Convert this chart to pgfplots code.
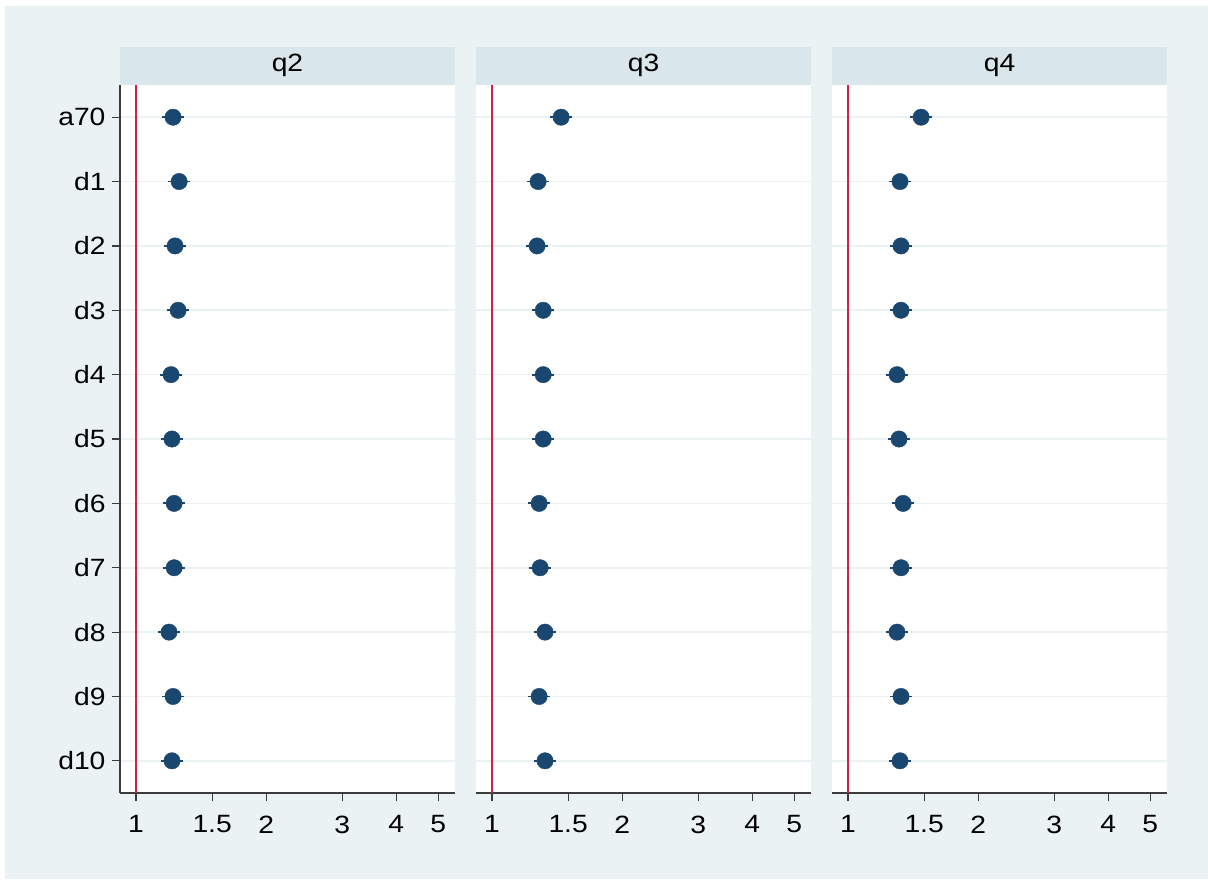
\documentclass[border=0pt]{standalone}
\usepackage{fontspec}
\setmainfont{Liberation Sans}[FakeStretch=1.13]
\usepackage{pgfplots}
\usepackage{pgfplotstable}
\pgfplotsset{compat=1.18}

\definecolor{bgc}{RGB}{234,242,243}
\definecolor{headc}{RGB}{217,230,235}
\definecolor{gridc}{RGB}{234,242,243}
\definecolor{markc}{RGB}{26,71,111}
\definecolor{redc}{RGB}{210,32,72}
\definecolor{axisc}{RGB}{60,60,60}

% odds ratios with confidence interval half-widths, one table per outcome
\pgfplotstableread{
pos est plus minus
1  1.218 0.074 0.069
2  1.258 0.076 0.072
3  1.231 0.074 0.070
4  1.251 0.076 0.071
5  1.205 0.073 0.069
6  1.211 0.073 0.069
7  1.225 0.074 0.070
8  1.225 0.074 0.070
9  1.192 0.072 0.068
10 1.218 0.074 0.069
11 1.211 0.073 0.069
}\tabqtwo
\pgfplotstableread{
pos est plus minus
1  1.445 0.087 0.082
2  1.278 0.077 0.073
3  1.271 0.077 0.072
4  1.313 0.079 0.075
5  1.313 0.079 0.075
6  1.313 0.079 0.075
7  1.285 0.078 0.073
8  1.292 0.078 0.074
9  1.326 0.080 0.076
10 1.285 0.078 0.073
11 1.326 0.080 0.076
}\tabqthree
\pgfplotstableread{
pos est plus minus
1  1.476 0.089 0.084
2  1.319 0.080 0.075
3  1.326 0.080 0.076
4  1.326 0.080 0.076
5  1.298 0.078 0.074
6  1.312 0.079 0.075
7  1.341 0.081 0.076
8  1.326 0.080 0.076
9  1.298 0.078 0.074
10 1.326 0.080 0.076
11 1.319 0.080 0.075
}\tabqfour

\newcommand{\lblfont}{\fontsize{25}{29}\selectfont}

% shared look of the three panels
\pgfplotsset{
  every axis/.append style={
    scale only axis, width=335pt, height=708pt,
    xmin=0.918, xmax=5.47, ymin=0.5, ymax=11.5, y dir=reverse,
    axis x line*=bottom, axis y line*=left,
    axis line style={axisc, line width=1.2pt},
    xtick={1,1.5,2,3,4,5}, xticklabels={1,1.5,2,3,4,5},
    ytick={1,2,3,4,5,6,7,8,9,10,11},
    ymajorgrids, grid style={gridc, line width=1.6pt},
    tick align=outside, major tick length=8pt,
    tick style={axisc, line width=1.2pt},
    tick label style={font=\lblfont, text=black},
    xticklabel style={yshift=-11pt},
    yticklabel style={xshift=-3pt},
    title style={fill=headc, minimum width=335pt, minimum height=38pt,
      inner sep=0pt, yshift=-6pt, font=\lblfont},
  },
}

\begin{document}
\begin{tikzpicture}
\fill[white] (0pt,0pt) rectangle (1208pt,-879pt);
\fill[bgc] (5pt,-6pt) rectangle (1208pt,-879pt);

\begin{semilogxaxis}[at={(120pt,-793pt)}, anchor=south west, title={q2},
  axis background/.style={fill=white}, xminorticks=false,
  yticklabels={a70,d1,d2,d3,d4,d5,d6,d7,d8,d9,d10}]
  \addplot[color=redc, line width=2.2pt] coordinates {(1,0.5) (1,11.5)};
  \addplot[only marks, mark=*, mark size=8.2pt, mark options={fill=markc, draw=markc},
    error bars/x dir=both, error bars/x explicit,
    error bars/error bar style={color=markc, line width=1.8pt},
    error bars/error mark=none]
    table[x=est, y=pos, x error plus=plus, x error minus=minus] {\tabqtwo};
\end{semilogxaxis}

\begin{semilogxaxis}[at={(476pt,-793pt)}, anchor=south west, title={q3},
  axis background/.style={fill=white}, xminorticks=false,
  y axis line style={draw=none}, ytick style={draw=none}, yticklabels={}]
  \addplot[color=redc, line width=2.2pt] coordinates {(1,0.5) (1,11.5)};
  \addplot[only marks, mark=*, mark size=8.2pt, mark options={fill=markc, draw=markc},
    error bars/x dir=both, error bars/x explicit,
    error bars/error bar style={color=markc, line width=1.8pt},
    error bars/error mark=none]
    table[x=est, y=pos, x error plus=plus, x error minus=minus] {\tabqthree};
\end{semilogxaxis}

\begin{semilogxaxis}[at={(832pt,-793pt)}, anchor=south west, title={q4},
  axis background/.style={fill=white}, xminorticks=false,
  y axis line style={draw=none}, ytick style={draw=none}, yticklabels={}]
  \addplot[color=redc, line width=2.2pt] coordinates {(1,0.5) (1,11.5)};
  \addplot[only marks, mark=*, mark size=8.2pt, mark options={fill=markc, draw=markc},
    error bars/x dir=both, error bars/x explicit,
    error bars/error bar style={color=markc, line width=1.8pt},
    error bars/error mark=none]
    table[x=est, y=pos, x error plus=plus, x error minus=minus] {\tabqfour};
\end{semilogxaxis}
\end{tikzpicture}
\end{document}
